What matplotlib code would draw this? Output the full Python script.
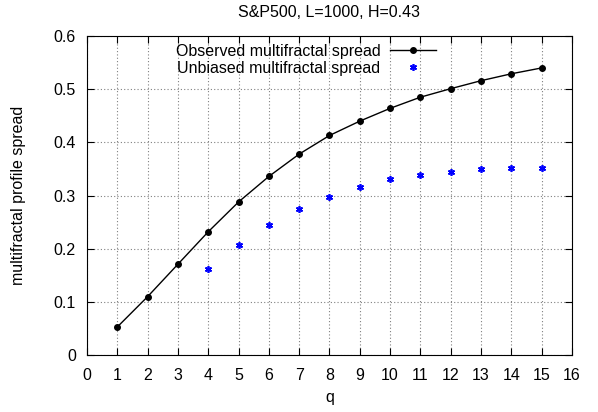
import matplotlib
matplotlib.use("Agg")
import matplotlib.pyplot as plt

plt.rcParams['font.family'] = ['Liberation Sans', 'DejaVu Sans']
fs = 11.5

q_obs = [1, 2, 3, 4, 5, 6, 7, 8, 9, 10, 11, 12, 13, 14, 15]
spread_obs = [0.053, 0.110, 0.171, 0.232, 0.288, 0.336, 0.378, 0.413, 0.440, 0.464, 0.485, 0.501, 0.516, 0.529, 0.540]
q_unb = [4, 5, 6, 7, 8, 9, 10, 11, 12, 13, 14, 15]
spread_unb = [0.162, 0.207, 0.245, 0.275, 0.298, 0.317, 0.331, 0.339, 0.345, 0.350, 0.352, 0.352]

fig = plt.figure(figsize=(5.98, 4.12), dpi=100)
ax = fig.add_axes([0.1455, 0.138, 0.811, 0.7746])

ax.plot(q_obs, spread_obs, '-o', color='black', lw=1, ms=4, label='Observed multifractal spread')
ax.plot(q_unb, spread_unb, linestyle='none', marker=(6, 2, 0), color='blue', ms=5, mew=1.2,
        label='Unbiased multifractal spread')

ax.set_xlim(0, 16)
ax.set_ylim(0, 0.6)
ax.set_xticks(range(0, 17))
ax.set_yticks([0, 0.1, 0.2, 0.3, 0.4, 0.5, 0.6])
ax.set_yticklabels(['0', '0.1', '0.2', '0.3', '0.4', '0.5', '0.6'])
ax.tick_params(direction='in', top=True, right=True, labelsize=fs, length=5, pad=8)
ax.tick_params(axis='x', pad=9)
ax.grid(True, color='gray', linestyle=(0, (1, 2)), lw=0.8)
ax.set_xlabel('q', fontsize=fs, labelpad=5)
ax.set_ylabel('multifractal profile spread', fontsize=fs, labelpad=20)
ax.set_title('S&P500, L=1000, H=0.43', fontsize=fs, pad=14)

leg = ax.legend(loc='upper right', bbox_to_anchor=(0.72, 0.976), frameon=False, markerfirst=False,
                fontsize=fs, handlelength=2.9, handletextpad=0.6, borderaxespad=0, borderpad=0,
                labelspacing=0.15)
for t in leg.get_texts():
    t.set_ha('right')
for col in leg._legend_handle_box.get_children():
    col.align = 'right'

fig.savefig('out.png', dpi=100)
